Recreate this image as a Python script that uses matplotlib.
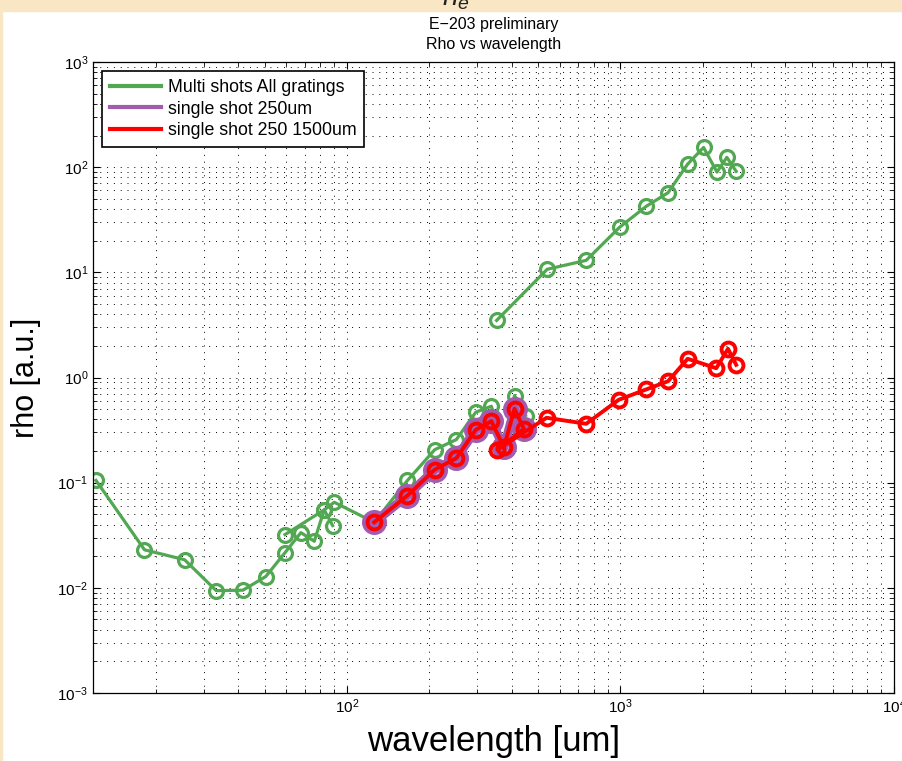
import matplotlib
matplotlib.use('Agg')
import matplotlib.pyplot as plt
from matplotlib.patches import Rectangle

plt.rcParams['font.family'] = ['Liberation Sans', 'DejaVu Sans']
plt.rcParams['mathtext.fontset'] = 'custom'
plt.rcParams['mathtext.rm'] = 'Liberation Sans'
plt.rcParams['mathtext.it'] = 'Liberation Sans:italic'

# multi shots, all gratings (two pieces, drawn in the same colour)
green_lo_x = [12.1, 18.2, 25.5, 33.3, 41.7, 50.5, 59.4, 67.9, 76.0, 82.6, 89.9,
              125.8, 166.5, 209.5, 251.3, 295.9, 337.4, 375, 410, 450]
green_lo_y = [0.105, 0.023, 0.0185, 0.0094, 0.0095, 0.0128, 0.0216, 0.0335, 0.0277, 0.0551, 0.0651,
              0.042, 0.105, 0.206, 0.257, 0.468, 0.533, 0.22, 0.674, 0.435]
green_side_x = [59.4, 82.6, 88.7]
green_side_y = [0.0321, 0.0551, 0.0391]
green_hi_x = [352.6, 540, 749.6, 994, 1245, 1493, 1761, 2014, 2253, 2449, 2649]
green_hi_y = [3.49, 10.7, 13.0, 26.9, 42.6, 57.2, 107, 154, 89.8, 124, 91.2]

# single shot 250um
purple_x = [125.8, 166.5, 209.5, 251.3, 295.9, 337.4, 375, 410, 443.6]
purple_y = [0.042, 0.0754, 0.133, 0.171, 0.318, 0.384, 0.217, 0.504, 0.325]

# single shot 250 + 1500um
red_x = purple_x + [354.8, 537, 749.6, 985.8, 1241, 1493, 1761, 2240, 2472, 2649]
red_y = purple_y + [0.206, 0.414, 0.363, 0.614, 0.769, 0.922, 1.506, 1.226, 1.875, 1.32]

GREEN = '#52a852'
PURPLE = '#a35bb0'
RED = '#ff0000'

fig = plt.figure(figsize=(9.03, 7.61), dpi=100)
fig.patch.set_facecolor('white')
# beige slide background peeking in at the top and left
fig.add_artist(Rectangle((0, 1 - 11 / 761), 1, 11 / 761, transform=fig.transFigure,
                         color='#f8e6c4', zorder=0))
fig.add_artist(Rectangle((0, 0), 2 / 903, 1, transform=fig.transFigure,
                         color='#f8e6c4', zorder=0))

ax = fig.add_axes([93 / 903, 1 - 693 / 761, 801 / 903, 631 / 761])

kw = dict(marker='o', markerfacecolor='none', markersize=10, markeredgewidth=2.3)
ax.plot(green_lo_x, green_lo_y, color=GREEN, lw=2.3, label='Multi shots All gratings', **kw)
ax.plot(green_side_x, green_side_y, color=GREEN, lw=2.3, **kw)
ax.plot(green_hi_x, green_hi_y, color=GREEN, lw=2.3, **kw)
ax.plot(purple_x, purple_y, color=PURPLE, lw=6.5, label='single shot 250um',
        marker='o', markerfacecolor='none', markersize=12, markeredgewidth=6)
ax.plot(red_x, red_y, color=RED, lw=2.8, label='single shot 250 1500um',
        marker='o', markerfacecolor='none', markersize=10, markeredgewidth=2.8)

ax.set_xscale('log')
ax.set_yscale('log')
ax.set_xlim(11.8, 1e4)
ax.set_ylim(1e-3, 1e3)

ax.grid(True, which='both', color='k', linestyle=(0, (1, 6)), linewidth=0.7)
ax.tick_params(which='both', direction='in', top=True, right=True, labelsize=11)
ax.tick_params(which='major', length=5)
ax.tick_params(which='minor', length=3)
for s in ax.spines.values():
    s.set_linewidth(0.9)

ax.set_title('E\u2212203 preliminary\nRho vs wavelength', fontsize=11.5, pad=9,
             linespacing=1.45)
ax.set_xlabel('wavelength [um]', fontsize=25, labelpad=6)
ax.set_ylabel('rho [a.u.]', fontsize=22, labelpad=12)

fig.text(0.505, 1 - 5 / 761, r'$n_e$', fontsize=20, ha='center', va='baseline',
         color='#222222')

leg = ax.legend(loc='upper left', bbox_to_anchor=(0.011, 0.986), borderaxespad=0,
                fancybox=False, framealpha=1, edgecolor='k', fontsize=12.8,
                handlelength=2.9, handletextpad=0.35, borderpad=0.45,
                labelspacing=0.27)
leg.get_frame().set_linewidth(1.2)
for line in leg.get_lines():
    line.set_marker('')
    line.set_linewidth(3)

fig.savefig('out.png', dpi=100, facecolor=fig.get_facecolor())
